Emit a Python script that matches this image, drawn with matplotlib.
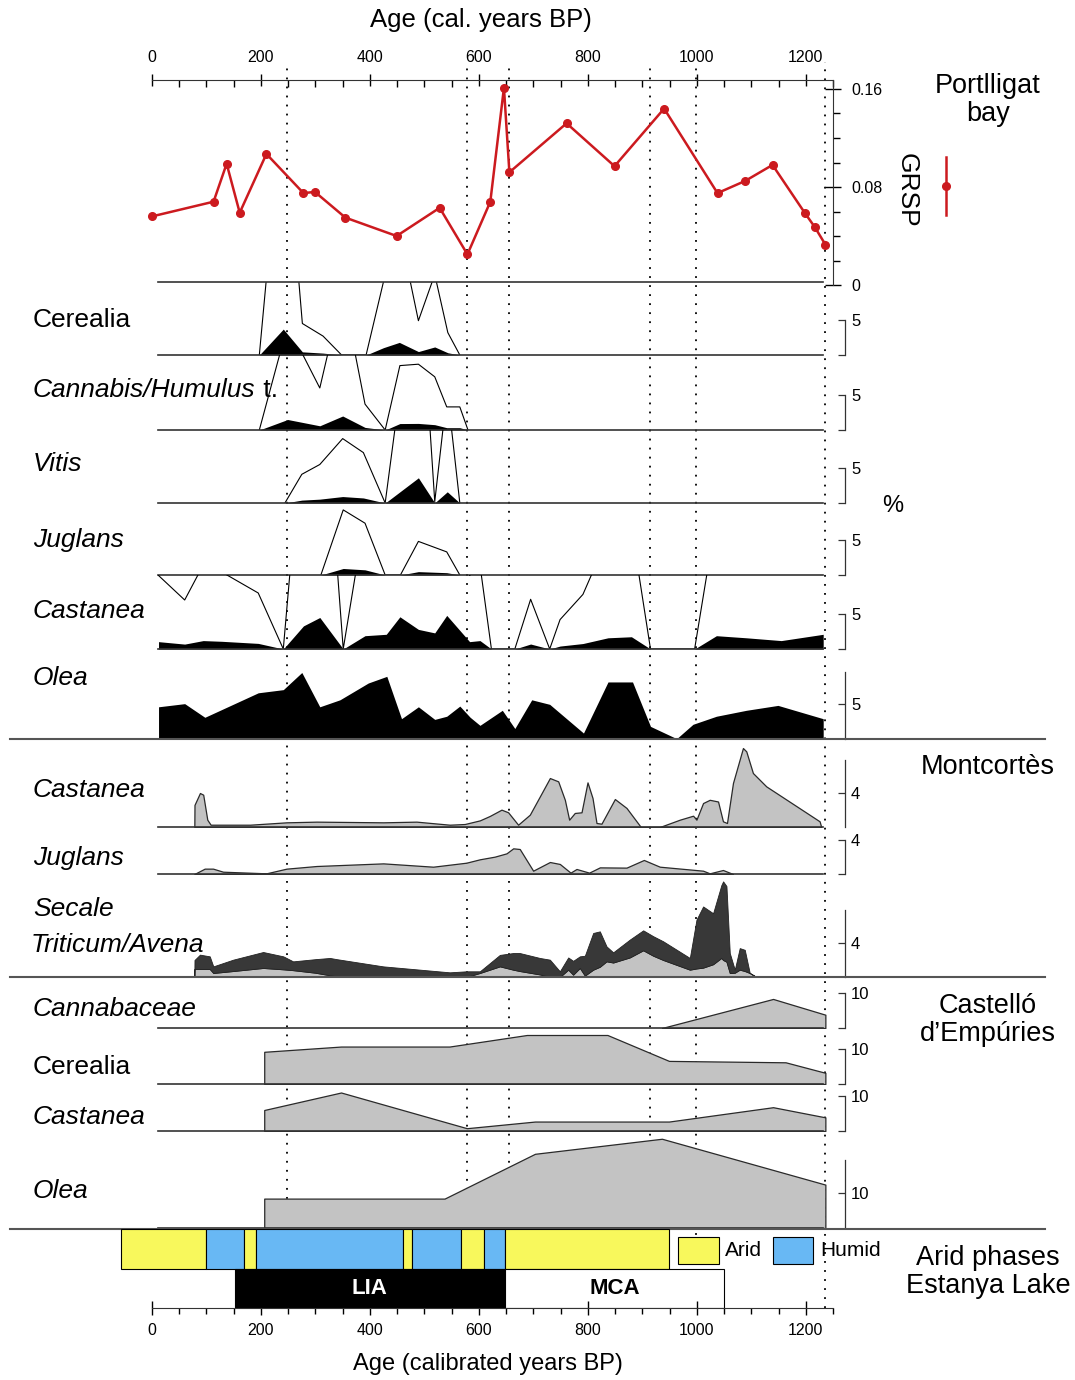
import numpy as np
import matplotlib.pyplot as plt
from matplotlib.lines import Line2D
from matplotlib.patches import Rectangle
from matplotlib.ticker import MultipleLocator

plt.rcParams['font.family'] = ['Liberation Sans', 'DejaVu Sans']

# ---------------- data ----------------
# Portlligat bay GRSP
grsp_age = [0, 113, 137, 161, 210, 278, 299, 355, 449, 528, 579, 621, 646, 656,
            761, 849, 940, 1038, 1089, 1139, 1198, 1217, 1236]
grsp_val = [0.056, 0.068, 0.099, 0.059, 0.107, 0.075, 0.076, 0.055, 0.040, 0.063,
            0.025, 0.068, 0.161, 0.092, 0.132, 0.097, 0.144, 0.075, 0.085, 0.098,
            0.059, 0.047, 0.033]

# Portlligat pollen (%)
p_cerealia_age = [197, 241, 276, 314, 348, 393, 425, 454, 489, 519, 543, 565]
p_cerealia = [0, 3.7, 0.45, 0.27, 0, 0, 1.05, 1.8, 0.49, 1.15, 0.32, 0]

p_cannabis_age = [197, 249, 308, 350, 391, 428, 455, 489, 519, 541, 565, 580]
p_cannabis = [0, 1.5, 0.6, 2.0, 0.37, 0, 0.92, 0.94, 0.76, 0.33, 0.33, 0]

p_vitis_age = [244, 275, 308, 350, 388, 428, 489, 519, 542, 565]
p_vitis = [0, 0.41, 0.55, 0.92, 0.72, 0, 3.6, 0.02, 1.6, 0]

p_juglans_age = [310, 351, 391, 428, 456, 489, 541, 565]
p_juglans = [0, 0.93, 0.74, 0, 0, 0.48, 0.33, 0]

p_castanea_age = [12, 60, 94, 128, 195, 241, 278, 308, 351, 391, 430, 455, 489, 519,
                  541, 583, 602, 623, 666, 695, 730, 749, 791, 837, 880, 915, 996,
                  1036, 1091, 1155, 1232]
p_castanea = [1.05, 0.7, 1.2, 1.1, 0.8, 0, 3.3, 4.5, 0, 1.9, 2.1, 4.6, 2.8, 2.3, 4.8,
              1.05, 1.2, 0, 0, 0.71, 0, 0.42, 0.78, 1.6, 1.75, 0, 0, 1.9, 1.6, 1.2, 2.1]

p_olea_age = [12, 60, 97, 195, 241, 275, 308, 345, 397, 431, 458, 489, 519, 541, 565,
              584, 602, 643, 666, 697, 730, 792, 837, 882, 915, 963, 993, 1036, 1091,
              1149, 1232]
p_olea = [4.6, 5.05, 3.1, 6.6, 7.05, 9.5, 4.6, 5.6, 8.0, 8.95, 2.9, 4.6, 2.8, 3.25,
          4.7, 3.1, 1.95, 4.1, 1.5, 5.6, 4.95, 0.85, 8.15, 8.15, 1.8, 0.05, 2.1, 3.25,
          4.1, 4.8, 2.9]

# Montcortes pollen (%)
m_castanea_age = [77.7, 78, 88, 94, 101.5, 107.6, 180, 247, 302, 424.5, 485.5, 546.5,
                  574, 601.8, 620, 641.5, 653.7, 672, 693.5, 711.9, 730.3, 745.6,
                  757.8, 765.7, 776, 788.4, 799.4, 808.6, 815.9, 825, 849.6, 871,
                  897.2, 932, 968.7, 993.2, 999.3, 1011.5, 1023.7, 1039, 1048, 1055.4,
                  1066.4, 1084.7, 1090.8, 1103, 1127.5, 1225.4, 1228.4]
m_castanea = [0, 2.6, 4.0, 3.8, 0.86, 0.27, 0.27, 0.55, 0.63, 0.55, 0.63, 0.27, 0.35,
              0.78, 1.3, 2.04, 1.73, 0.27, 1.45, 3.6, 5.76, 5.37, 3.2, 0.86, 1.65,
              1.73, 5.25, 3.41, 0.47, 0.39, 3.29, 2.24, 0, 0, 0.86, 1.33, 0.86, 2.82,
              3.2, 3.0, 0.67, 0.47, 5.18, 9.29, 8.9, 6.35, 4.78, 0.67, 0]

m_juglans_age = [77.7, 96.7, 112, 130.4, 210, 247, 302, 424.5, 516, 577, 601.8, 629,
                 650.7, 663, 675, 699.6, 730.3, 748.6, 768.2, 779.2, 802.4, 822, 871,
                 902.8, 932, 1011.5, 1023.7, 1048, 1066.4]
m_juglans = [0, 0.63, 0.63, 0.27, 0.08, 0.63, 0.94, 1.25, 0.86, 1.33, 1.73, 2.04, 2.43,
             3.02, 2.94, 0.39, 1.41, 1.18, 0.16, 0.59, 0.16, 0.78, 0.75, 1.65, 0.86,
             0.39, 0.08, 0.47, 0]

m_cereal_age = [77.7, 78, 88, 106, 112.5, 149, 204, 241, 259, 300, 326.6, 339, 424.5,
                546.5, 577, 601.8, 638.5, 663, 675, 711.9, 730.3, 748.6, 764, 773,
                785.3, 794.5, 809.8, 822, 834.3, 846.5, 877, 901.6, 920, 938.3, 987.2,
                999.4, 1011.6, 1029.9, 1045, 1048.3, 1054.4, 1060.5, 1069.7, 1078.8,
                1088, 1097.2, 1109.5]
m_triticum = [0, 0.94, 0.94, 0.94, 0.47, 0.7, 1.06, 0.9, 0.8, 0.5, 0.2, 0.08, 0, 0, 0,
              0.47, 1.25, 0.86, 0.7, 0.3, 0, 0, 0.86, 0.27, 1.06, 0.16, 0.86, 1.2,
              1.84, 1.7, 2.3, 3.14, 2.5, 2.0, 0.86, 1.0, 1.1, 1.5, 2.24, 2.0, 1.8,
              0.47, 0.5, 0.86, 0.7, 0.47, 0]
m_secale = [0, 1.06, 1.69, 1.49, 0.78, 1.34, 1.88, 1.53, 1.04, 1.6, 2.04, 2.02, 1.25,
            0.55, 0.67, 0.2, 1.35, 1.96, 2.12, 1.94, 2.04, 0.67, 1.44, 1.63, 1.37, 2.34,
            4.32, 4.17, 1.76, 1.2, 2.1, 2.35, 2.3, 2.2, 1.38, 5.75, 7.2, 6.0, 8.56,
            9.25, 8.9, 2.35, 0.36, 2.54, 2.5, 0, 0]

# Castello d'Empuries pollen (%)
c_cannab_age = [936, 1140, 1236]
c_cannab = [0, 8.3, 3.8]
c_cerealia_age = [206, 206, 347, 546, 688, 836, 949, 1163, 1236]
c_cerealia = [0, 9.2, 10.7, 10.7, 14.0, 14.0, 6.6, 6.2, 3.2]
c_castanea_age = [206, 206, 347, 578, 703, 949, 1140, 1236]
c_castanea = [0, 6.0, 11.0, 0.8, 2.7, 2.7, 6.8, 3.9]
c_olea_age = [206, 206, 537, 703, 936, 1236]
c_olea = [0, 8.4, 8.4, 21.2, 25.5, 12.4]

# Estanya Lake phases and climate periods
phase_edges = [-56, 99, 168, 191, 460, 478, 567, 610, 648, 949]
phase_kind = ['Arid', 'Humid', 'Arid', 'Humid', 'Arid', 'Humid', 'Arid', 'Humid', 'Arid']
period_names = ['LIA', 'MCA']
period_start = [152, 648]
period_end = [648, 1050]

dotted_ages = [247, 578, 656, 915, 998, 1236]

# ---------------- layout helpers ----------------
W, H = 1075, 1380
X0, X1 = 152, 833
AGE_MAX = 1250
YELLOW, BLUE = '#f8f85c', '#68b8f4'
LIGHT, DARK = '#c3c3c3', '#383838'

fig = plt.figure(figsize=(W / 100, H / 100), dpi=100)


def box(top, bottom, left=X0, right=X1):
    return [left / W, 1 - bottom / H, (right - left) / W, (bottom - top) / H]


def panel(top, base, scale):
    ax = fig.add_axes(box(top, base))
    ax.set_xlim(0, AGE_MAX)
    ax.set_ylim(0, (base - top) / scale)
    ax.patch.set_visible(False)
    for side in ('top', 'left', 'right'):
        ax.spines[side].set_visible(False)
    ax.spines['bottom'].set_bounds(11, 1232)
    ax.spines['bottom'].set_color('#333333')
    ax.spines['bottom'].set_linewidth(1.2)
    ax.set_xticks([])
    ax.set_yticks([])
    return ax


def scale_bar(ax, top, ticks, labels):
    sp = ax.spines['right']
    sp.set_visible(True)
    sp.set_position(('outward', 9))
    sp.set_bounds(0, top)
    sp.set_color('#333333')
    sp.set_linewidth(0.9)
    ax.yaxis.set_ticks_position('right')
    ax.set_yticks(ticks)
    ax.set_yticklabels(labels)
    ax.tick_params(axis='y', direction='in', length=5, width=0.9, color='#333333',
                   labelsize=12, pad=4)


def label(y, text, style='italic', x=33):
    return fig.text(x / W, 1 - y / H, text, fontsize=19, style=style,
                    ha='left', va='center')


# dotted guide lines (behind everything)
ax_bg = fig.add_axes(box(62, 1308), zorder=0)
ax_bg.set_xlim(0, AGE_MAX)
ax_bg.axis('off')
for a in dotted_ages:
    ax_bg.axvline(a, ymin=0 if a == dotted_ages[-1] else 0.03, ymax=1,
                  color='black', lw=1.3, ls=(0, (1, 4)))

# ---------------- GRSP ----------------
ax_g = fig.add_axes(box(80, 285), zorder=2)
ax_g.patch.set_visible(False)
ax_g.set_xlim(0, AGE_MAX)
ax_g.set_ylim(0, (285 - 80) / 1225)
ax_g.spines['left'].set_visible(False)
ax_g.spines['bottom'].set_visible(False)
ax_g.spines['top'].set_color('#333333')
ax_g.spines['right'].set_color('#333333')
ax_g.xaxis.tick_top()
ax_g.set_xticks(range(0, 1201, 200))
ax_g.xaxis.set_minor_locator(MultipleLocator(50))
ax_g.tick_params(axis='x', which='major', direction='inout', length=9, width=1,
                 labelsize=11.5, pad=6)
ax_g.tick_params(axis='x', which='minor', direction='in', length=5, width=1)
ax_g.yaxis.tick_right()
ax_g.set_yticks([0, 0.08, 0.16])
ax_g.set_yticklabels(['0', '0.08', '0.16'])
ax_g.yaxis.set_minor_locator(MultipleLocator(0.02))
ax_g.tick_params(axis='y', which='major', direction='inout', length=11, width=1,
                 labelsize=11.5, pad=8)
ax_g.tick_params(axis='y', which='minor', direction='out', length=5, width=1)
ax_g.plot(grsp_age, grsp_val, color='#cc1a1f', lw=1.8, marker='o', ms=5.5,
          clip_on=False)

# ---------------- Portlligat pollen ----------------
P = 7.0  # px per %
portlligat = [
    (282, 355, p_cerealia_age, p_cerealia, True),
    (355, 430, p_cannabis_age, p_cannabis, True),
    (430, 503, p_vitis_age, p_vitis, True),
    (503, 575, p_juglans_age, p_juglans, True),
    (575, 649, p_castanea_age, p_castanea, True),
    (649, 739, p_olea_age, p_olea, False),
]
for i, (top, base, ages, vals, exag) in enumerate(portlligat):
    ax = panel(top, base, P)
    if i == 0:
        ax.spines['top'].set_visible(True)
        ax.spines['top'].set_bounds(11, 1232)
        ax.spines['top'].set_color('#333333')
        ax.spines['top'].set_linewidth(1.2)
    if exag:
        # x10 exaggeration outline
        ax.plot(ages, np.array(vals) * 10, color='black', lw=0.8)
        scale_bar(ax, 5, [0, 5], ['', '5'])
    else:
        scale_bar(ax, 9.6, [5], ['5'])
    ax.fill_between(ages, vals, color='black', lw=0)

label(320, 'Cerealia', style='normal')
t_can = label(390, 'Cannabis/Humulus')
ax_bg.annotate(' t.', xy=(1, 0), xycoords=t_can, fontsize=19, ha='left',
               va='bottom', annotation_clip=False)
label(464, 'Vitis')
label(540, 'Juglans')
label(611, 'Castanea')
label(678, 'Olea')

# ---------------- Montcortes ----------------
M = 8.5
ax = panel(742, 827, M)
ax.fill_between(m_castanea_age, m_castanea, color=LIGHT, edgecolor='#2a2a2a', lw=0.9)
scale_bar(ax, 7.9, [4], ['4'])
ax = panel(827, 874, M)
ax.fill_between(m_juglans_age, m_juglans, color=LIGHT, edgecolor='#2a2a2a', lw=0.9)
scale_bar(ax, 4, [0, 4], ['', '4'])
ax = panel(878, 977, M)
ax.stackplot(m_cereal_age, m_triticum, m_secale, colors=[LIGHT, DARK],
             edgecolor='#222222', lw=0.6)
scale_bar(ax, 7.9, [4], ['4'])

label(790, 'Castanea')
label(858, 'Juglans')
label(909, 'Secale')
label(945, 'Triticum/Avena', x=31)

# ---------------- Castello d'Empuries ----------------
C = 3.5
castello = [
    (980, 1028, c_cannab_age, c_cannab),
    (1028, 1084, c_cerealia_age, c_cerealia),
    (1084, 1131, c_castanea_age, c_castanea),
    (1131, 1228, c_olea_age, c_olea),
]
for i, (top, base, ages, vals) in enumerate(castello):
    ax = panel(top, base, C)
    ax.fill_between(ages, vals, color=LIGHT, edgecolor='#2a2a2a', lw=0.9)
    if i < 3:
        scale_bar(ax, 10, [0, 10], ['', '10'])
    else:
        scale_bar(ax, 19.5, [10], ['10'])

label(1009, 'Cannabaceae')
label(1067, 'Cerealia', style='normal')
label(1117, 'Castanea')
label(1191, 'Olea')

# ---------------- phases and periods ----------------
ax_b = fig.add_axes(box(1229, 1308), zorder=2)
ax_b.patch.set_visible(False)
ax_b.set_xlim(0, AGE_MAX)
ax_b.set_ylim(0, 2)
for side in ('top', 'left', 'right'):
    ax_b.spines[side].set_visible(False)
ax_b.spines['bottom'].set_color('#333333')
ax_b.set_yticks([])
edges = np.array(phase_edges)
bars = ax_b.barh([1.5] * len(phase_kind), np.diff(edges), left=edges[:-1], height=1,
                 color=[YELLOW if k == 'Arid' else BLUE for k in phase_kind],
                 edgecolor='black', lw=0.8)
for b in bars:
    b.set_clip_on(False)
per = ax_b.barh([0.5, 0.5], np.array(period_end) - np.array(period_start),
                left=period_start, height=1, color=['black', 'white'],
                edgecolor='black', lw=0.8)
for b, name, s, e in zip(per, period_names, period_start, period_end):
    ax_b.text((s + e) / 2, 0.5, name, ha='center', va='center', fontsize=16,
              fontweight='bold', color='white' if name == 'LIA' else 'black')

for x0, col, txt in [(966, YELLOW, 'Arid'), (1140, BLUE, 'Humid')]:
    ax_b.add_patch(Rectangle((x0, 1.11), 74, 0.69, facecolor=col, edgecolor='black',
                             lw=0.8, clip_on=False))
    ax_b.text(x0 + 86, 1.45, txt, fontsize=15, va='center', ha='left')

ax_b.set_xticks(range(0, 1201, 200))
ax_b.xaxis.set_minor_locator(MultipleLocator(50))
ax_b.tick_params(axis='x', which='major', direction='inout', length=10, width=1,
                 labelsize=11.5, pad=6)
ax_b.tick_params(axis='x', which='minor', direction='out', length=4, width=1)

# ---------------- separators and titles ----------------
for y in (739, 977, 1229):
    fig.add_artist(Line2D([10 / W, 1045 / W], [1 - y / H] * 2, color='#555555', lw=1.5))

fig.text(481 / W, 1 - 20 / H, 'Age (cal. years BP)', fontsize=18.5, ha='center',
         va='center')
fig.text(488 / W, 1 - 1364 / H, 'Age (calibrated years BP)', fontsize=17,
         ha='center', va='center')

fig.text(988 / W, 1 - 100 / H, 'Portlligat\nbay', fontsize=19.5, ha='center',
         va='center', linespacing=1.1)
fig.text(907 / W, 1 - 190 / H, 'GRSP', fontsize=19, rotation=270, ha='center',
         va='center')
fig.add_artist(Line2D([946 / W] * 3, [1 - 157 / H, 1 - 186 / H, 1 - 215 / H],
                      color='#cc1a1f', lw=1.8, marker='o', markevery=[1], ms=5.5))
fig.text(893 / W, 1 - 506 / H, '%', fontsize=17, ha='center', va='center')
fig.text(988 / W, 1 - 767 / H, 'Montcortès', fontsize=19.5, ha='center', va='center')
fig.text(988 / W, 1 - 1020 / H, 'Castelló\nd\u2019Empúries', fontsize=19.5,
         ha='center', va='center', linespacing=1.1)
fig.text(988 / W, 1 - 1272 / H, 'Arid phases\nEstanya Lake', fontsize=19.5,
         ha='center', va='center', linespacing=1.1)

fig.savefig('out.png', dpi=100)
